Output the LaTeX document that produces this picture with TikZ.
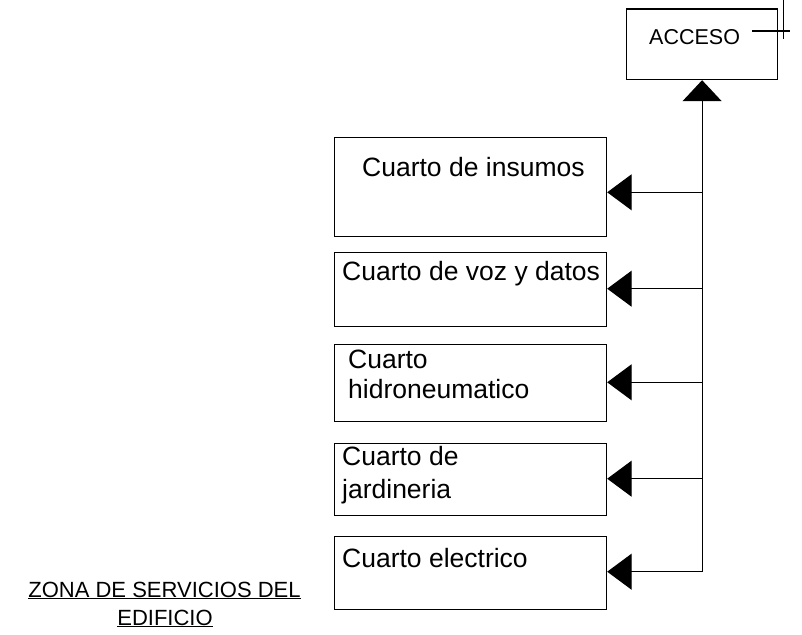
\documentclass[tikz,border=0pt]{standalone}
\usepackage{fontspec}
\setmainfont{Liberation Sans}
\usetikzlibrary{arrows.meta}
\begin{document}
\begin{tikzpicture}[x=1pt,y=-1pt,
  room/.style={draw, line width=1.2pt, inner sep=0pt, anchor=north west},
  boxtext/.style={inner sep=0pt, anchor=base west, font=\fontsize{26.5}{30}\selectfont},
  ln/.style={line width=1.2pt},
  branch/.style={ln, -{Triangle[length=24.5pt,width=36pt]}},
  up/.style={ln, -{Triangle[length=21pt,width=39pt]}}]
\useasboundingbox (0,0) rectangle (802,634);
% boxes
\node[room, minimum width=151pt, minimum height=70.5pt] (acc) at (626,8.5) {};
\node[room, minimum width=272.5pt, minimum height=99.5pt] (ins) at (333.5,136.5) {};
\node[room, minimum width=272.5pt, minimum height=74.5pt] (voz) at (333.5,251.5) {};
\node[room, minimum width=272.5pt, minimum height=77.5pt] (hid) at (333.5,343.5) {};
\node[room, minimum width=272.5pt, minimum height=72pt] (jar) at (333.5,442.5) {};
\node[room, minimum width=272.5pt, minimum height=72.5pt] (ele) at (333.5,536) {};
% texts
\node[inner sep=0pt, anchor=base west, font=\fontsize{21.5}{24}\selectfont] (acct) at (649,45) {ACCESO};
\node[boxtext] (inst) at (362,176.5) {Cuarto de insumos};
\node[boxtext] (vozt) at (342,280.5) {Cuarto de voz y datos};
\node[boxtext] (hidt1) at (348,368.3) {Cuarto};
\node[boxtext] (hidt2) at (348,398.3) {hidroneumatico};
\node[boxtext] (jart1) at (342,465) {Cuarto de};
\node[boxtext] (jart2) at (342,498) {jardineria};
\node[boxtext] (elet) at (342,567.3) {Cuarto electrico};
\node[inner sep=0pt, anchor=base, font=\fontsize{22}{26}\selectfont] (zona1) at (164.5,597) {\underline{ZONA DE SERVICIOS DEL}};
\node[inner sep=0pt, anchor=base, font=\fontsize{22}{26}\selectfont] (zona2) at (165,625) {\underline{EDIFICIO}};
% trunk
\coordinate (j1) at (acc.south |- 0,192.3);
\coordinate (j2) at (acc.south |- 0,288.7);
\coordinate (j3) at (acc.south |- 0,382.3);
\coordinate (j4) at (acc.south |- 0,478.7);
\coordinate (j5) at (acc.south |- 0,571.7);
\draw[up] (j5) -- (acc.south);
\draw[branch] (j1) -- (ins.east |- j1);
\draw[branch] (j2) -- (voz.east |- j2);
\draw[branch] (j3) -- (hid.east |- j3);
\draw[branch] (j4) -- (jar.east |- j4);
\draw[branch] (j5) -- (ele.east |- j5);
% tick on ACCESO
\coordinate (t1) at (752,31);
\coordinate (t2) at (790,31);
\coordinate (t3) at (783.3,0);
\coordinate (t4) at (783.3,39);
\draw[ln] (t1) -- (t2);
\draw[ln] (t3) -- (t4);
\end{tikzpicture}
\end{document}
